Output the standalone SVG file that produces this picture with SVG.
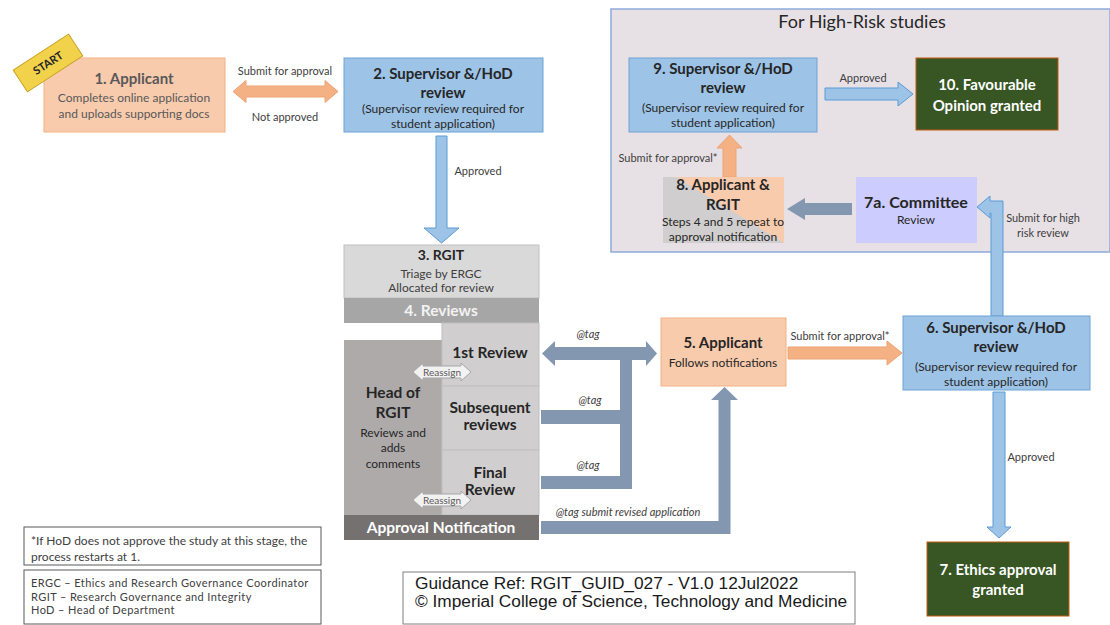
<svg xmlns="http://www.w3.org/2000/svg" width="1110" height="625" viewBox="0 0 1110 625">
<style>
text{font-family:Lato,"Liberation Sans",sans-serif;text-anchor:middle;fill:#262626}
.t{font-weight:bold;font-size:15px}
.r{font-weight:bold;font-size:15.5px}
.s{font-size:12px}
.lbl{font-size:11px;fill:#404040}
.tag{font-size:11px;font-style:italic;fill:#404040}
.leg{font-size:12px;fill:#404040;text-anchor:start}
.leg2{font-size:11px;letter-spacing:0.4px;fill:#404040;text-anchor:start}
.ref{font-family:"Liberation Sans",Arial,sans-serif;font-size:17.3px;text-anchor:start;fill:#1a1a1a}
.peach{fill:#f8cbad;stroke:#f4b183;stroke-width:1}
.blue{fill:#9dc3e6;stroke:#6fa3d6;stroke-width:1}
.green{fill:#375623;stroke:#c55a11;stroke-width:1}
.grey{fill:#d0cece;stroke:#bfbfbf;stroke-width:1}
.slate{fill:#8497b0}
.orange{fill:#f4b183;stroke:#eda374;stroke-width:1}
.barrow{fill:#9dc3e6;stroke:#5b9bd5;stroke-width:1}
.reassign{fill:#f2f2f2;stroke:#a6a6a6;stroke-width:1}
</style>
<rect width="1110" height="625" fill="#ffffff"/>

<g id="highrisk-panel">
<rect x="611" y="9" width="499" height="243" fill="#e7e1e6" stroke="#8eaadb" stroke-width="1.5"/>
<text x="862" y="28" style="font-size:18px" fill="#262626">For High-Risk studies</text>
</g>

<g id="connectors">
<polygon class="orange" points="233,91.5 246,80.5 246,86 325,86 325,80.5 338,91.5 325,102.5 325,97 246,97 246,102.5"/>
<polygon class="barrow" points="436,136 447,136 447,228 459,228 441.5,243 424,228 436,228"/>
<polygon class="slate" points="542,353.5 555,341 555,347 646,347 646,341 657,353.5 646,366 646,360 555,360 555,366"/>
<rect class="slate" x="620" y="355" width="12" height="134"/>
<rect class="slate" x="541" y="410" width="80" height="14"/>
<rect class="slate" x="541" y="476" width="91" height="13"/>
<polygon class="slate" points="541,521 718.5,521 718.5,400 711,400 724.5,387 738,400 730.5,400 730.5,534 541,534"/>
<polygon class="orange" points="788,347 887,347 887,341 902,353 887,365 887,359 788,359"/>
<polygon class="barrow" points="991,316 991,213 990,213 990,218 977,207 990,196 990,201 1003,201 1003,316"/>
<polygon class="slate" points="852,203 805,203 805,198 787,209 805,220 805,215 852,215"/>
<polygon class="orange" points="723,177 723,148 717,148 729.5,135 742,148 736,148 736,177"/>
<polygon class="barrow" points="825,88 898,88 898,82 913,94 898,106 898,100 825,100"/>
<polygon class="barrow" points="993,392 1005,392 1005,527 1011,527 999,538 987,527 993,527"/>

<text class="lbl" x="285" y="75">Submit for approval</text>
<text class="lbl" x="285" y="121">Not approved</text>
<text class="lbl" x="478" y="175">Approved</text>
<text class="tag" x="588" y="338">@tag</text>
<text class="tag" x="590" y="404">@tag</text>
<text class="tag" x="588" y="469">@tag</text>
<text class="tag" x="628" y="516">@tag submit revised application</text>
<text class="lbl" x="840" y="340">Submit for approval*</text>
<text class="lbl" x="1043" y="222">Submit for high</text>
<text class="lbl" x="1043" y="237">risk review</text>
<text class="lbl" x="863" y="82">Approved</text>
<text class="lbl" x="1031" y="461">Approved</text>
<text class="lbl" x="668" y="162">Submit for approval*</text>
</g>

<g id="n1">
<rect class="peach" x="44" y="58" width="181" height="74"/>
<text class="t" x="134" y="84" style="fill:#595959">1. Applicant</text>
<text class="s" x="134" y="102" style="fill:#595959">Completes online application</text>
<text class="s" x="134" y="118" style="fill:#595959">and uploads supporting docs</text>
</g>

<g id="start">
<g transform="translate(48,63) rotate(-33)">
<rect x="-33" y="-13" width="66" height="26" fill="#f2d24b" stroke="#c9a227"/>
<text y="4" style="font-size:11px;font-weight:bold" fill="#7f6000">START</text>
</g>
</g>

<g id="n2">
<rect class="blue" x="344" y="58" width="199" height="74"/>
<text class="t" x="443" y="79">2. Supervisor &amp;/HoD</text>
<text class="t" x="443" y="98">review</text>
<text class="s" x="443" y="113">(Supervisor review required for</text>
<text class="s" x="443" y="128">student application)</text>
</g>

<g id="n3">
<rect x="344" y="245" width="195" height="53" fill="#d9d9d9" stroke="#bfbfbf"/>
<text x="441" y="260" style="font-size:14px;font-weight:bold">3. RGIT</text>
<text class="s" x="441" y="278" style="fill:#404040">Triage by ERGC</text>
<text class="s" x="441" y="292" style="fill:#404040">Allocated for review</text>
</g>

<g id="n4">
<rect x="344" y="298" width="195" height="25" fill="#a6a6a6"/>
<text class="r" x="441" y="316" style="fill:#f2f2f2">4. Reviews</text>
</g>

<g id="head-rgit">
<rect x="344" y="340" width="98" height="175" fill="#aeaaaa"/>
<text class="r" x="393" y="398">Head of</text>
<text class="r" x="393" y="418">RGIT</text>
<text class="s" x="393" y="437">Reviews and</text>
<text class="s" x="393" y="452">adds</text>
<text class="s" x="393" y="468">comments</text>
</g>

<g id="review1">
<rect class="grey" x="442" y="323" width="97" height="63"/>
<text class="r" x="490" y="358">1st Review</text>
</g>
<g id="review-sub">
<rect class="grey" x="442" y="386" width="97" height="64"/>
<text class="r" x="490" y="413">Subsequent</text>
<text class="r" x="490" y="430">reviews</text>
</g>
<g id="review-final">
<rect class="grey" x="442" y="450" width="97" height="65"/>
<text class="r" x="490" y="478">Final</text>
<text class="r" x="490" y="495">Review</text>
</g>

<g id="approval-notification">
<rect x="344" y="515" width="195" height="25" fill="#767171"/>
<text class="r" x="441" y="533" style="fill:#ffffff">Approval Notification</text>
</g>

<g id="reassign1">
<polygon class="reassign" points="413,372 423,363 423,366 461,366 461,363 471,372 461,381 461,378 423,378 423,381"/>
<text x="442" y="375.5" style="font-size:10px;fill:#595959">Reassign</text>
</g>
<g id="reassign2">
<polygon class="reassign" points="413,500 423,491 423,494 461,494 461,491 471,500 461,509 461,506 423,506 423,509"/>
<text x="442" y="503.5" style="font-size:10px;fill:#595959">Reassign</text>
</g>

<g id="n5">
<rect class="peach" x="661" y="318" width="125" height="68"/>
<text class="t" x="723" y="348">5. Applicant</text>
<text class="s" x="723" y="367">Follows notifications</text>
</g>

<g id="n6">
<rect class="blue" x="903" y="316" width="187" height="74"/>
<text class="t" x="996" y="333">6. Supervisor &amp;/HoD</text>
<text class="t" x="996" y="352">review</text>
<text class="s" x="996" y="371">(Supervisor review required for</text>
<text class="s" x="996" y="386">student application)</text>
</g>

<g id="n7">
<rect class="green" x="927" y="542" width="142" height="74"/>
<text class="t" x="998" y="575" style="fill:#ffffff">7. Ethics approval</text>
<text class="t" x="998" y="595" style="fill:#ffffff">granted</text>
</g>

<g id="n7a">
<rect x="856" y="177" width="121" height="66" fill="#ccccff"/>
<text x="916" y="208" style="font-size:16px;font-weight:bold">7a. Committee</text>
<text class="s" x="916" y="224">Review</text>
</g>

<g id="n8">
<rect x="663" y="177" width="121" height="66" fill="#f8cbad"/>
<polygon points="663,177 676,177 784,243 663,243" fill="#d0cece"/>
<text class="t" x="723" y="190">8. Applicant &amp;</text>
<text class="t" x="723" y="210">RGIT</text>
<text class="s" x="723" y="226">Steps 4 and 5 repeat to</text>
<text class="s" x="723" y="241">approval notification</text>
</g>

<g id="n9">
<rect class="blue" x="629" y="58" width="188" height="74"/>
<text class="t" x="723" y="74">9. Supervisor &amp;/HoD</text>
<text class="t" x="723" y="93">review</text>
<text class="s" x="723" y="112">(Supervisor review required for</text>
<text class="s" x="723" y="127">student application)</text>
</g>

<g id="n10">
<rect class="green" x="916" y="58" width="142" height="72"/>
<text class="t" x="987" y="90" style="fill:#ffffff">10. Favourable</text>
<text class="t" x="987" y="111" style="fill:#ffffff">Opinion granted</text>
</g>

<g id="legend">
<rect x="24" y="527" width="297" height="38" fill="#ffffff" stroke="#595959"/>
<text class="leg" x="31" y="545">*If HoD does not approve the study at this stage, the</text>
<text class="leg" x="31" y="561">process restarts at 1.</text>
<rect x="24" y="570" width="297" height="54" fill="#ffffff" stroke="#595959"/>
<text class="leg2" x="31" y="587">ERGC – Ethics and Research Governance Coordinator</text>
<text class="leg2" x="31" y="600.5">RGIT – Research Governance and Integrity</text>
<text class="leg2" x="31" y="614">HoD – Head of Department</text>
</g>

<g id="guidance">
<rect x="403" y="572" width="452" height="52" fill="#ffffff" stroke="#7f7f7f"/>
<text class="ref" x="415" y="589">Guidance Ref: RGIT_GUID_027 - V1.0 12Jul2022</text>
<text class="ref" x="415" y="607">© Imperial College of Science, Technology and Medicine</text>
</g>
</svg>
